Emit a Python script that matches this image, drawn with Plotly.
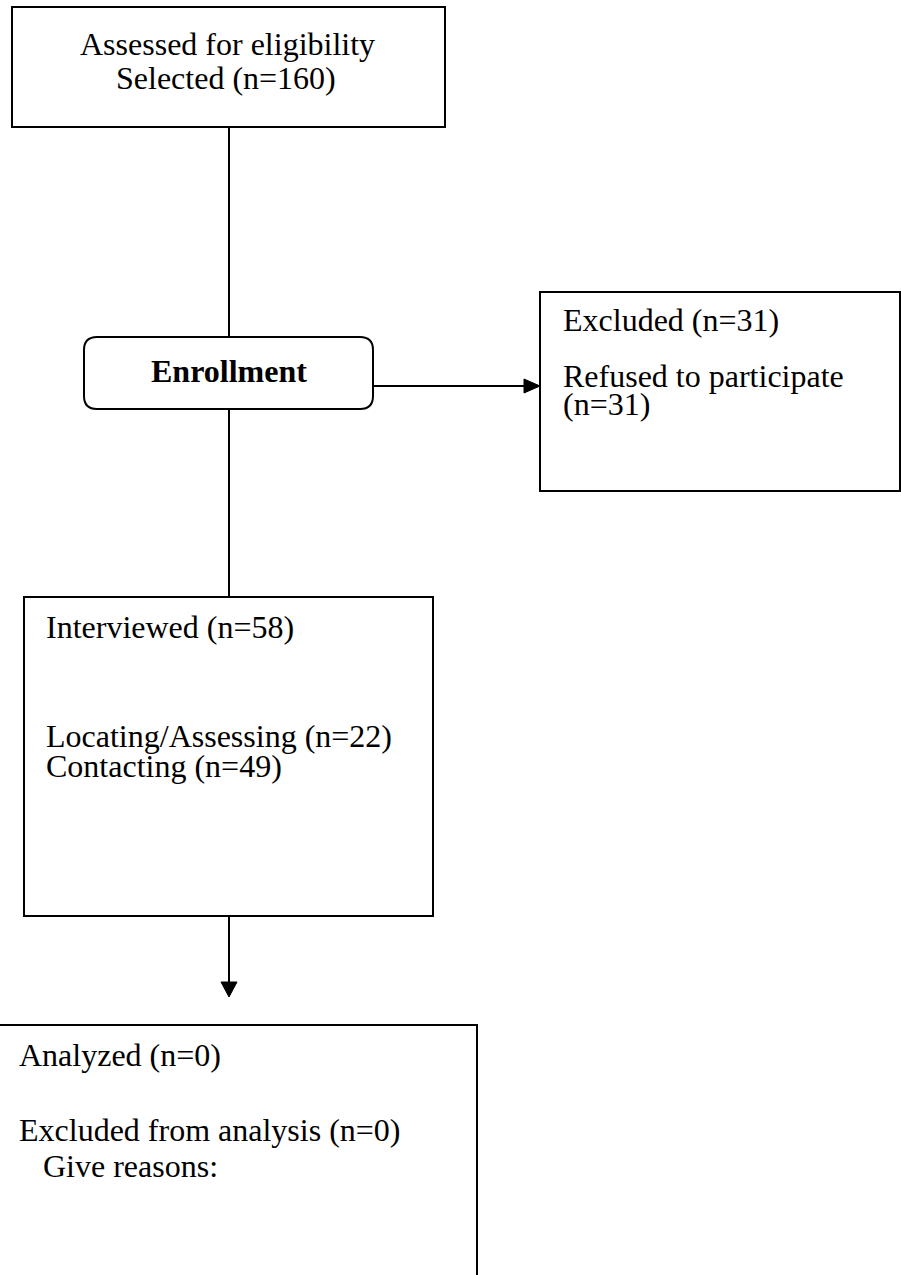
import plotly.graph_objects as go

# ---------------- data ----------------
top_title = "Assessed for eligibility"
selected_label = "Selected"
selected_n = 160
enroll_label = "Enrollment"
excluded_label = "Excluded"
excluded_n = 31
refused_label = "Refused to participate"
refused_n = 31
interviewed_label = "Interviewed"
interviewed_n = 58
locating_label = "Locating/Assessing"
locating_n = 22
contacting_label = "Contacting"
contacting_n = 49
analyzed_label = "Analyzed"
analyzed_n = 0
excl_analysis_label = "Excluded from analysis"
excl_analysis_n = 0
reasons_label = "Give reasons:"

# ---------------- layout geometry (pixel canvas) ----------------
W, H = 901, 1275
FONT = "Liberation Serif, Times New Roman, serif"
FS = 32
LW = 2

boxes = {
    "top": (12, 7, 445, 127),
    "excluded": (540, 292, 900, 491),
    "interviewed": (24, 597, 433, 916),
    "analyzed": (-6, 1025, 477, 1290),
}
enroll_box = (84, 337, 373, 409)
enroll_r = 13
cx = 229

shapes = []
for (x0, y0, x1, y1) in boxes.values():
    shapes.append(dict(type="rect", xref="x", yref="y", x0=x0, y0=y0, x1=x1, y1=y1,
                       line=dict(color="black", width=LW), fillcolor="white", layer="below"))

x0, y0, x1, y1 = enroll_box
r = enroll_r
path = (f"M {x0+r},{y0} L {x1-r},{y0} Q {x1},{y0} {x1},{y0+r} L {x1},{y1-r} "
        f"Q {x1},{y1} {x1-r},{y1} L {x0+r},{y1} Q {x0},{y1} {x0},{y1-r} "
        f"L {x0},{y0+r} Q {x0},{y0} {x0+r},{y0} Z")
shapes.append(dict(type="path", path=path, xref="x", yref="y",
                   line=dict(color="black", width=LW), fillcolor="white"))

def line(xa, ya, xb, yb):
    shapes.append(dict(type="line", xref="x", yref="y", x0=xa, y0=ya, x1=xb, y1=yb,
                       line=dict(color="black", width=LW)))

# connectors
line(cx, boxes["top"][3], cx, enroll_box[1])
line(cx, enroll_box[3], cx, boxes["interviewed"][1])
ay = 386
line(enroll_box[2], ay, 526, ay)
shapes.append(dict(type="path", xref="x", yref="y",
                   path=f"M 524,{ay-7} L 540,{ay} L 524,{ay+7} Z",
                   fillcolor="black", line=dict(color="black", width=1)))
line(cx, boxes["interviewed"][3], cx, 984)
shapes.append(dict(type="path", xref="x", yref="y",
                   path=f"M {cx-8},982 L {cx},997 L {cx+8},982 Z",
                   fillcolor="black", line=dict(color="black", width=1)))

# ---------------- text ----------------
texts = [
    (top_title, 227, 44, "center", False),
    (f"{selected_label} (n={selected_n})", 226, 77.5, "center", False),
    (enroll_label, 229, 370.5, "center", True),
    (f"{excluded_label} (n={excluded_n})", 561, 320, "left", False),
    (refused_label, 561, 376, "left", False),
    (f"(n={refused_n})", 561, 404, "left", False),
    (f"{interviewed_label} (n={interviewed_n})", 44, 627, "left", False),
    (f"{locating_label} (n={locating_n})", 44, 736, "left", False),
    (f"{contacting_label} (n={contacting_n})", 44, 766, "left", False),
    (f"{analyzed_label} (n={analyzed_n})", 17, 1055, "left", False),
    (f"{excl_analysis_label} (n={excl_analysis_n})", 17, 1130, "left", False),
    (reasons_label, 41, 1166, "left", False),
]
annotations = []
for t, x, y, anc, bold in texts:
    annotations.append(dict(text=f"<b>{t}</b>" if bold else t, x=x, y=y, xref="x", yref="y",
                            xanchor=anc, yanchor="middle", showarrow=False,
                            font=dict(family=FONT, size=FS, color="black")))

fig = go.Figure()
fig.update_layout(
    width=W, height=H, autosize=False,
    margin=dict(l=0, r=0, t=0, b=0, pad=0),
    paper_bgcolor="white", plot_bgcolor="white",
    xaxis=dict(range=[0, W], visible=False, fixedrange=True),
    yaxis=dict(range=[H, 0], visible=False, fixedrange=True),
    shapes=shapes, annotations=annotations, showlegend=False,
)
fig.write_html("out.html", config={"displayModeBar": False, "staticPlot": True},
               post_script="document.body.style.margin='0';document.body.style.overflow='hidden';")
